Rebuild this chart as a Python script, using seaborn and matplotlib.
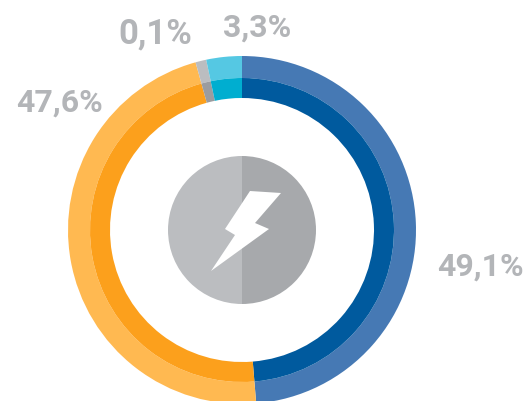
# -*- coding: utf-8 -*-
import matplotlib
matplotlib.use("Agg")
import matplotlib.pyplot as plt
from matplotlib.patches import Polygon, Wedge
import seaborn as sns

# orden horario desde arriba: hidro, termica, otros, renovables
etiquetas = ["49,1%", "47,6%", "0,1%", "3,3%"]
valores = [48.7, 47.0, 1.0, 3.3]   # lo dibujado, el gris es mas ancho que su etiqueta
colores_claros = ["#4679b4", "#ffb951", "#bbbdc0", "#55c8e3"]
colores_oscuros = ["#005a9e", "#fca01c", "#9b9c9f", "#00aed0"]

sns.set_theme(style="white")
plt.rcParams["font.family"] = ["Roboto", "DejaVu Sans"]

fig = plt.figure(figsize=(5.26, 4.01), dpi=100)
ax = fig.add_axes([0, 0, 1, 1])

# anillos
cx, cy = 242, 171
ax.pie(valores, colors=sns.color_palette(colores_claros), radius=174, center=(cx, cy),
       startangle=90, counterclock=False, wedgeprops={"width": 22, "linewidth": 0}, frame=True)
ax.pie(valores, colors=sns.color_palette(colores_oscuros), radius=152, center=(cx, cy),
       startangle=90, counterclock=False, wedgeprops={"width": 20, "linewidth": 0}, frame=True)

# icono central
ax.add_patch(Wedge((cx, cy), 74, 90, 270, color="#bbbdc0", lw=0))
ax.add_patch(Wedge((cx, cy), 74, -90, 90, color="#a7a9ac", lw=0))
rayo = [(250, 191), (281, 193), (255, 223), (269, 229), (211, 271), (235, 235), (225, 229)]
ax.add_patch(Polygon([(x, 401 - y) for x, y in rayo], color="white", lw=0))

# etiquetas
pos_etiquetas = [(480, 134), (60, 298), (155, 367), (257, 373)]
tamanos = [23, 23, 25, 23]
for txt, (x, y), tam in zip(etiquetas, pos_etiquetas, tamanos):
    ax.text(x, y, txt, ha="center", va="center", fontsize=tam, fontweight="bold", color="#b3b5b8")

ax.set_xlim(0, 526)
ax.set_ylim(0, 401)
ax.set_aspect("equal")
ax.axis("off")

fig.savefig("out.png", dpi=100)
